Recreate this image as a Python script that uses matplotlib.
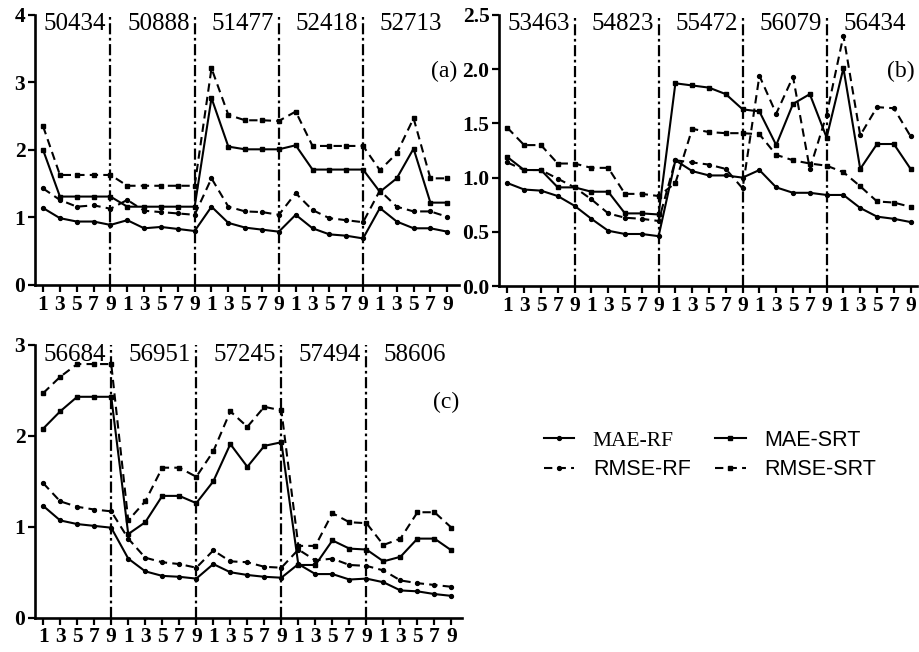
#!/usr/bin/env python3
import matplotlib
matplotlib.use('Agg')
import matplotlib.pyplot as plt
from matplotlib.lines import Line2D

# station names per panel
stations_a = ['50434', '50888', '51477', '52418', '52713']
stations_b = ['53463', '54823', '55472', '56079', '56434']
stations_c = ['56684', '56951', '57245', '57494', '58606']

tick_labels = ['1', '3', '5', '7', '9'] * 5

# panel (a)
mae_rf_a = [1.14, 0.99, 0.94, 0.94, 0.89, 0.96, 0.84, 0.86, 0.83, 0.80,
            1.16, 0.92, 0.85, 0.82, 0.79, 1.04, 0.84, 0.75, 0.73, 0.69,
            1.14, 0.94, 0.84, 0.84, 0.79]
rmse_rf_a = [1.43, 1.26, 1.16, 1.18, 1.13, 1.26, 1.10, 1.08, 1.06, 1.04,
             1.58, 1.16, 1.09, 1.08, 1.04, 1.36, 1.11, 0.99, 0.96, 0.93,
             1.40, 1.16, 1.09, 1.09, 1.01]
mae_srt_a = [2.00, 1.31, 1.31, 1.31, 1.31, 1.16, 1.16, 1.16, 1.16, 1.16,
             2.77, 2.05, 2.01, 2.01, 2.01, 2.07, 1.71, 1.71, 1.71, 1.71,
             1.38, 1.58, 2.02, 1.22, 1.22]
rmse_srt_a = [2.35, 1.63, 1.63, 1.63, 1.63, 1.47, 1.47, 1.47, 1.47, 1.47,
              3.21, 2.52, 2.44, 2.44, 2.43, 2.57, 2.06, 2.06, 2.06, 2.06,
              1.70, 1.95, 2.47, 1.58, 1.58]

# panel (b)
mae_rf_b = [0.95, 0.89, 0.88, 0.83, 0.74, 0.62, 0.51, 0.48, 0.48, 0.46,
            1.16, 1.06, 1.02, 1.02, 1.00, 1.07, 0.91, 0.86, 0.86, 0.84,
            0.84, 0.72, 0.64, 0.62, 0.59]
rmse_rf_b = [1.14, 1.07, 1.07, 0.99, 0.91, 0.80, 0.67, 0.63, 0.62, 0.60,
             1.16, 1.14, 1.12, 1.08, 0.90, 1.94, 1.59, 1.93, 1.08, 1.58,
             2.31, 1.39, 1.65, 1.64, 1.38]
mae_srt_b = [1.19, 1.07, 1.07, 0.91, 0.91, 0.87, 0.87, 0.67, 0.67, 0.66,
             1.87, 1.85, 1.83, 1.77, 1.63, 1.61, 1.30, 1.68, 1.77, 1.37,
             2.01, 1.08, 1.31, 1.31, 1.08]
rmse_srt_b = [1.46, 1.30, 1.30, 1.13, 1.13, 1.09, 1.09, 0.85, 0.85, 0.83,
              0.95, 1.45, 1.42, 1.41, 1.41, 1.40, 1.21, 1.16, 1.13, 1.11,
              1.05, 0.92, 0.78, 0.77, 0.73]

# panel (c)
mae_rf_c = [1.23, 1.07, 1.03, 1.01, 0.99, 0.65, 0.51, 0.46, 0.45, 0.43,
            0.59, 0.50, 0.47, 0.45, 0.44, 0.59, 0.48, 0.48, 0.42, 0.43,
            0.39, 0.30, 0.29, 0.26, 0.24]
rmse_rf_c = [1.48, 1.28, 1.22, 1.19, 1.17, 0.87, 0.66, 0.61, 0.59, 0.55,
             0.74, 0.62, 0.61, 0.56, 0.55, 0.75, 0.63, 0.65, 0.58, 0.57,
             0.52, 0.41, 0.38, 0.36, 0.34]
mae_srt_c = [2.08, 2.27, 2.43, 2.43, 2.43, 0.92, 1.05, 1.34, 1.34, 1.26,
             1.50, 1.91, 1.66, 1.89, 1.93, 0.58, 0.58, 0.85, 0.76, 0.75,
             0.62, 0.67, 0.87, 0.87, 0.74]
rmse_srt_c = [2.47, 2.65, 2.79, 2.79, 2.79, 1.07, 1.28, 1.65, 1.65, 1.55,
              1.83, 2.27, 2.10, 2.32, 2.28, 0.79, 0.79, 1.15, 1.05, 1.04,
              0.80, 0.87, 1.16, 1.16, 0.99]

series_names = ['MAE-RF', 'MAE-SRT', 'RMSE-RF', 'RMSE-SRT']

# line styles (same order as series_names)
styles = [
    {'color': 'black', 'ls': '-', 'lw': 1.5, 'marker': 'o', 'markersize': 2.8},
    {'color': 'black', 'ls': '-', 'lw': 1.5, 'marker': 's', 'markersize': 2.8},
    {'color': 'black', 'ls': (0, (4, 2.5)), 'lw': 1.5, 'marker': 'o', 'markersize': 2.8},
    {'color': 'black', 'ls': (0, (4, 2.5)), 'lw': 1.5, 'marker': 's', 'markersize': 3.2},
]

SERIF = 'Liberation Serif'
SANS = 'Liberation Sans'


def draw_panel(ax, data, stations, tag, ymax, yticks, yticklabels, xmax):
    x = list(range(len(tick_labels)))
    for vals, st in zip(data, styles):
        ax.plot(x, vals, **st, clip_on=False, zorder=3)
    for k in range(1, 5):
        ax.axvline(5 * k - 1, color='black', lw=1.6,
                   ls=(0, (5, 1.6, 1.2, 1.6)), zorder=2)
    for k, name in enumerate(stations):
        ax.text(5 * k + 1.85, 0.965, name, transform=ax.get_xaxis_transform(),
                ha='center', va='center', fontsize=18, family=SERIF)
    ax.text(0.995, 0.79, tag, transform=ax.transAxes, ha='right', va='center',
            fontsize=17, family=SERIF)
    ax.set_xlim(-0.48, xmax)
    ax.set_ylim(0, ymax)
    ax.set_xticks(x)
    ax.set_xticklabels(tick_labels)
    ax.set_yticks(yticks)
    ax.set_yticklabels(yticklabels)
    for s in ('top', 'right'):
        ax.spines[s].set_visible(False)
    for s in ('left', 'bottom'):
        ax.spines[s].set_linewidth(1.9)
    ax.tick_params(axis='both', direction='out', length=5, width=1.6,
                   labelsize=15.5, pad=2)
    for lab in ax.get_xticklabels() + ax.get_yticklabels():
        lab.set_fontweight('bold')
        lab.set_family(SERIF)


def main():
    plt.rcParams['font.family'] = [SERIF, 'DejaVu Serif']
    fig = plt.figure(figsize=(9.19, 6.52), dpi=100)

    ax_a = fig.add_axes([0.0381, 0.5629, 0.4614, 0.4141])
    ax_b = fig.add_axes([0.5433, 0.5613, 0.4540, 0.4157])
    ax_c = fig.add_axes([0.0381, 0.0526, 0.4643, 0.4183])

    draw_panel(ax_a, [mae_rf_a, mae_srt_a, rmse_rf_a, rmse_srt_a], stations_a,
               '(a)', 4, [0, 1, 2, 3, 4], ['0', '1', '2', '3', '4'], 24.7)
    draw_panel(ax_b, [mae_rf_b, mae_srt_b, rmse_rf_b, rmse_srt_b], stations_b,
               '(b)', 2.5, [0, 0.5, 1.0, 1.5, 2.0, 2.5],
               ['0.0', '0.5', '1.0', '1.5', '2.0', '2.5'], 24.35)
    draw_panel(ax_c, [mae_rf_c, mae_srt_c, rmse_rf_c, rmse_srt_c], stations_c,
               '(c)', 3, [0, 1, 2, 3], ['0', '1', '2', '3'], 24.6)

    # legend fills column-wise: RF entries in column 1, SRT in column 2
    order = [0, 2, 1, 3]
    handles = [Line2D([], [], **styles[i]) for i in order]
    labels = [series_names[i] for i in order]
    leg = fig.legend(handles, labels, ncol=2, loc='center',
                     bbox_to_anchor=(0.7726, 0.302), frameon=False,
                     fontsize=15.5, handlelength=1.4, handletextpad=0.85,
                     columnspacing=1.15, labelspacing=0.4)
    for lab, t in zip(labels, leg.get_texts()):
        t.set_family(SERIF if lab == 'MAE-RF' else SANS)

    fig.savefig('out.png', dpi=100)


if __name__ == '__main__':
    main()
